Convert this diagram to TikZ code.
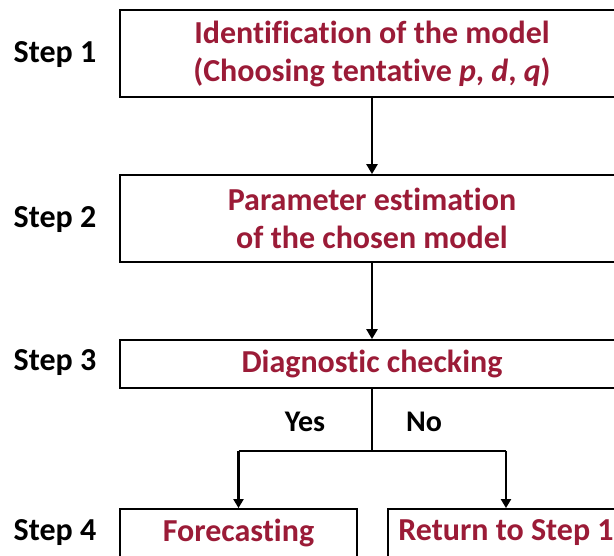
\documentclass[tikz,border=0pt]{standalone}
\usepackage{fontspec}
\setmainfont{Carlito}[Ligatures=NoCommon]
\usetikzlibrary{arrows.meta}
\definecolor{boxred}{RGB}{155,27,55}
\tikzset{
  stepbox/.style={draw=black, line width=1.8pt, fill=white, text=boxred, font=\fontsize{32}{38}\selectfont\bfseries, align=center, inner sep=0pt},
  steplabel/.style={font=\fontsize{32}{36}\selectfont\bfseries, text=black},
  flow/.style={line width=2.8pt, -{Triangle[length=10pt,width=11pt]}},
  branch/.style={line width=2.2pt},
  barrow/.style={line width=2.2pt, -{Triangle[length=9pt,width=10pt]}}
}
\begin{document}
\begin{tikzpicture}[x=1pt,y=-1pt]
\useasboundingbox (0,0) rectangle (614,556);
\clip (0,0) rectangle (614,556);
\fill[white] (0,0) rectangle (614,556);
\node[stepbox, minimum width=504pt, minimum height=87pt] (b1) at (372,53.5) {Identification of the model\\(Choosing tentative \textit{p}, \textit{d}, \textit{q})};
\node[stepbox, minimum width=504pt, minimum height=87pt] (b2) at (372,218.5) {Parameter estimation\\of the chosen model};
\node[stepbox, minimum width=504pt, minimum height=48pt] (b3) at (372,364) {Diagnostic checking};
\node[stepbox, minimum width=237pt, minimum height=48pt] (b4) at (238.5,533) {Forecasting};
\node[stepbox, minimum width=236pt, minimum height=48pt] (b5) at (506,533) {Return to Step 1};
\node[steplabel] (s1) at (55,55) {Step 1};
\node[steplabel] (s2) at (55,220) {Step 2};
\node[steplabel] (s3) at (55,363) {Step 3};
\node[steplabel] (s4) at (55,533) {Step 4};
\node[steplabel, font=\fontsize{30}{36}\selectfont\bfseries] (yes) at (305,422) {Yes};
\node[steplabel, font=\fontsize{30}{36}\selectfont\bfseries] (no) at (424,422) {No};
\coordinate (j) at (372,451);
\coordinate (jl) at (b4.north |- j);
\coordinate (jr) at (b5.north |- j);
\draw[flow] (b1.south) -- (b2.north);
\draw[flow] (b2.south) -- (b3.north);
\draw[branch] (b3.south) -- (j);
\draw[branch] (jl) -- (jr);
\draw[barrow] (jl) -- (b4.north);
\draw[barrow] (jr) -- (b5.north);
\end{tikzpicture}
\end{document}
